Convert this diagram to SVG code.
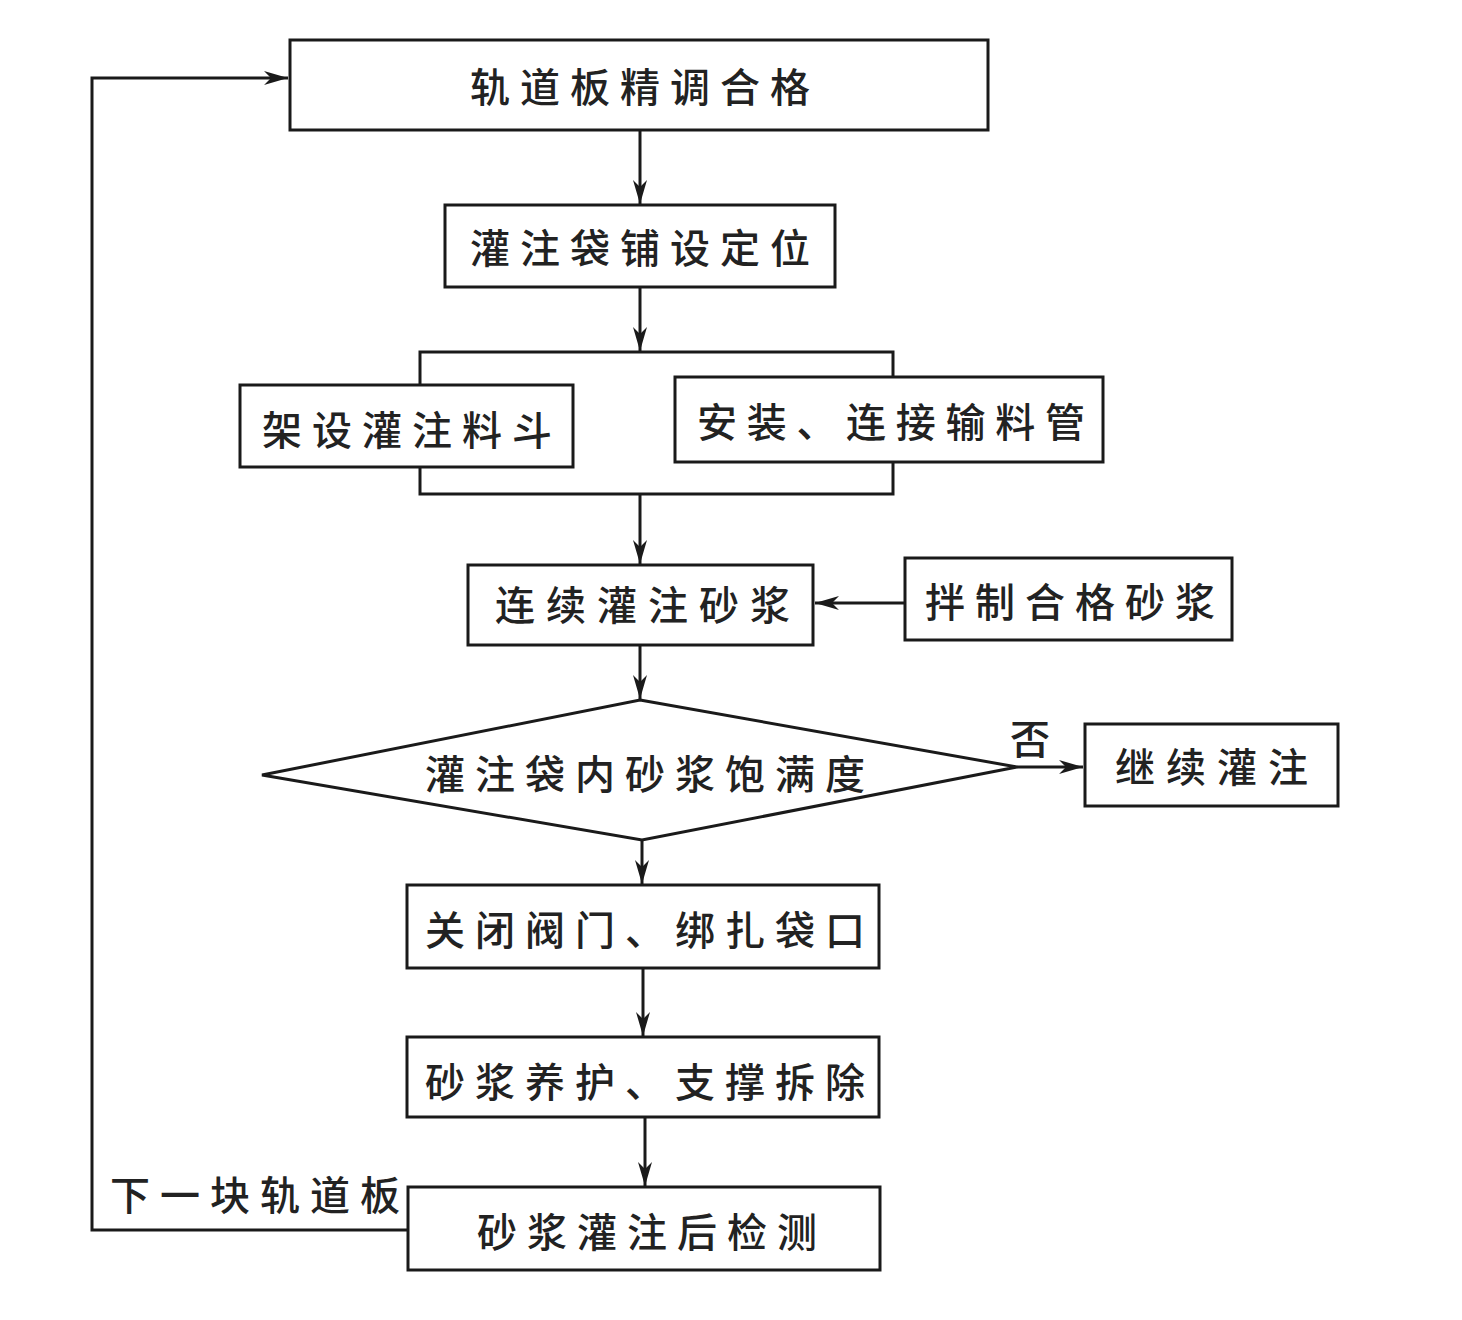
<svg xmlns="http://www.w3.org/2000/svg" width="1462" height="1320" viewBox="0 0 1462 1320">
<style>
.b{fill:#fff;stroke:#1a1a1a;stroke-width:3}
.l{fill:none;stroke:#1a1a1a;stroke-width:3}
.t{font-family:"Noto Sans CJK SC","Noto Sans CJK JP",sans-serif;font-size:40px;font-weight:500;fill:#222;letter-spacing:10px;dominant-baseline:central}
</style>
<defs>
<marker id="a" viewBox="0 0 24 14" refX="24" refY="7" markerWidth="24" markerHeight="14" markerUnits="userSpaceOnUse" orient="auto">
<path d="M0,0 L24,7 L0,14 L7,7 Z" fill="#1a1a1a"/>
</marker>
</defs>
<rect width="1462" height="1320" fill="#fff"/>
<g id="connectors">
<line class="l" x1="640" y1="130" x2="640" y2="204" marker-end="url(#a)"/>
<line class="l" x1="640" y1="287" x2="640" y2="351" marker-end="url(#a)"/>
<path class="l" d="M420,385 V352 H893 V377"/>
<path class="l" d="M420,467 V494 H893 V462"/>
<line class="l" x1="640" y1="494" x2="640" y2="564" marker-end="url(#a)"/>
<line class="l" x1="905" y1="603" x2="815" y2="603" marker-end="url(#a)"/>
<line class="l" x1="640" y1="645" x2="640" y2="699" marker-end="url(#a)"/>
<line class="l" x1="1017" y1="767" x2="1083" y2="767" marker-end="url(#a)"/>
<line class="l" x1="642" y1="840" x2="642" y2="884" marker-end="url(#a)"/>
<line class="l" x1="643" y1="968" x2="643" y2="1036" marker-end="url(#a)"/>
<line class="l" x1="645" y1="1117" x2="645" y2="1186" marker-end="url(#a)"/>
<path class="l" d="M408,1230 H92 V78 H288" marker-end="url(#a)"/>
<text class="t" x="110" y="1193">下一块轨道板</text>
<text class="t" x="1010" y="737" style="letter-spacing:0">否</text>
</g>
<g id="n1"><rect class="b" x="290" y="40" width="698" height="90"/><text class="t" x="470" y="85">轨道板精调合格</text></g>
<g id="n2"><rect class="b" x="445" y="205" width="390" height="82"/><text class="t" x="470" y="246">灌注袋铺设定位</text></g>
<g id="n3"><rect class="b" x="240" y="385" width="333" height="82"/><text class="t" x="262" y="428">架设灌注料斗</text></g>
<g id="n4"><rect class="b" x="675" y="377" width="428" height="85"/><text class="t" x="697" y="420" style="letter-spacing:9.7px">安装、连接输料管</text></g>
<g id="n5"><rect class="b" x="468" y="565" width="345" height="80"/><text class="t" x="495" y="603" style="letter-spacing:11px">连续灌注砂浆</text></g>
<g id="n6"><rect class="b" x="905" y="558" width="327" height="82"/><text class="t" x="925" y="600">拌制合格砂浆</text></g>
<g id="n7"><polygon class="b" points="640,700 1017,767 642,840 262,775"/><text class="t" x="425" y="772">灌注袋内砂浆饱满度</text></g>
<g id="n8"><rect class="b" x="1085" y="724" width="253" height="82"/><text class="t" x="1115" y="765" style="letter-spacing:11px">继续灌注</text></g>
<g id="n9"><rect class="b" x="407" y="885" width="472" height="83"/><text class="t" x="425" y="928">关闭阀门、绑扎袋口</text></g>
<g id="n10"><rect class="b" x="407" y="1037" width="472" height="80"/><text class="t" x="425" y="1080">砂浆养护、支撑拆除</text></g>
<g id="n11"><rect class="b" x="408" y="1187" width="472" height="83"/><text class="t" x="477" y="1230">砂浆灌注后检测</text></g>
</svg>
